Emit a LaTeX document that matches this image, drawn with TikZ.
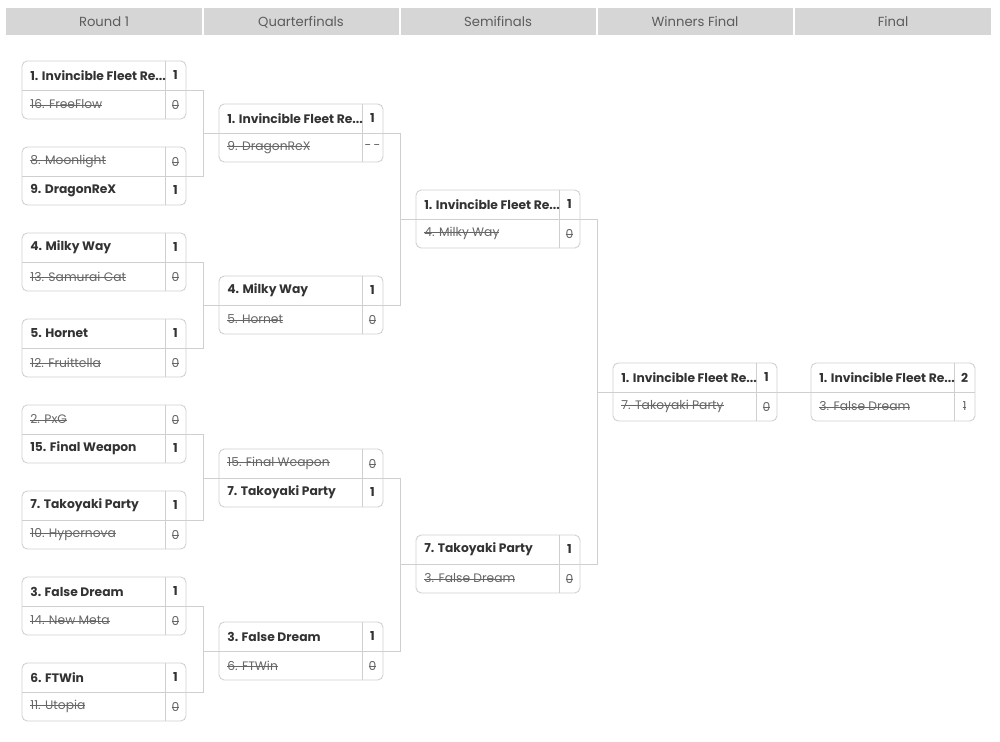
\documentclass[tikz,border=0pt]{standalone}
\usepackage{fontspec}
\setmainfont{Poppins}
\usetikzlibrary{positioning}
\definecolor{hdr}{HTML}{D6D6D6}
\definecolor{frame}{HTML}{CFCFCF}
\definecolor{ink}{HTML}{333333}
\definecolor{lost}{HTML}{666666}
\newcommand\W[1]{\textbf{#1}}
\newcommand\Lo[1]{\textcolor{lost}{\setbox0\hbox{#1}\rlap{\rule[0.3em]{\wd0}{0.35pt}}\box0}}
% \bmatch{name}{x}{ytop}{top team}{top score}{bottom team}{bottom score}
\newcommand\bmatch[7]{%
	\draw[box] (#2,#3) rectangle ++(164,58);
	\draw[frame] (#2,#3+29) -- ++(164,0);
	\draw[frame] (#2+143,#3) -- ++(0,58);
	\node[team] (#1a) at (#2+8,#3+14.5) {#4};
	\node[score] (#1as) at (#2+153.5,#3+14.5) {#5};
	\node[team] (#1b) at (#2+8,#3+43.5) {#6};
	\node[score] (#1bs) at (#2+153.5,#3+43.5) {#7};
	\coordinate (#1l) at (#2,#3+29);
	\coordinate (#1r) at (#2+164,#3+29);}
\newcommand\linkgames[3]{%
	\draw[link] (#1r) -- ++(17,0) |- (#2r);
	\draw[link] (#3l) -- ++(-16,0);}

\begin{document}
\begin{tikzpicture}[x=0.02cm,y=-0.02cm,
	box/.style={draw=frame,rounded corners=3pt,line width=0.5pt},
	link/.style={draw=frame,line width=0.5pt},
	team/.style={anchor=west,inner sep=0pt,text=ink,font=\fontsize{7}{8}\selectfont},
	score/.style={inner sep=0pt,text=ink,font=\fontsize{7}{8}\selectfont},
	head/.style={text=ink!80,font=\fontsize{7.5}{9}\selectfont}]
\useasboundingbox (0,0) rectangle (1000,742);

%% En-tetes
	\fill[hdr] (6,8) rectangle (991,35);
	\foreach \x in {203,400,597,794} \draw[white,line width=1pt] (\x,8) -- (\x,35);
	\node[head] (h1) at (104,22) {Round 1};
	\node[head] (h2) at (301,22) {Quarterfinals};
	\node[head] (h3) at (498,22) {Semifinals};
	\node[head] (h4) at (695,22) {Winners Final};
	\node[head] (h5) at (893,22) {Final};

%% Round 1
	\bmatch{ra}{22}{61}{\W{1. Invincible Fleet Re...}}{\W{1}}{\Lo{16. FreeFlow}}{\Lo{0}}
	\bmatch{rb}{22}{147}{\Lo{8. Moonlight}}{\Lo{0}}{\W{9. DragonReX}}{\W{1}}
	\bmatch{rc}{22}{233}{\W{4. Milky Way}}{\W{1}}{\Lo{13. Samurai Cat}}{\Lo{0}}
	\bmatch{rd}{22}{319}{\W{5. Hornet}}{\W{1}}{\Lo{12. Fruittella}}{\Lo{0}}
	\bmatch{re}{22}{405}{\Lo{2. PxG}}{\Lo{0}}{\W{15. Final Weapon}}{\W{1}}
	\bmatch{rf}{22}{491}{\W{7. Takoyaki Party}}{\W{1}}{\Lo{10. Hypernova}}{\Lo{0}}
	\bmatch{rg}{22}{577}{\W{3. False Dream}}{\W{1}}{\Lo{14. New Meta}}{\Lo{0}}
	\bmatch{rh}{22}{663}{\W{6. FTWin}}{\W{1}}{\Lo{11. Utopia}}{\Lo{0}}

%% Quarterfinals
	\bmatch{qa}{219}{104}{\W{1. Invincible Fleet Re...}}{\W{1}}{\Lo{9. DragonReX}}{\textcolor{lost}{-\,-}}
	\bmatch{qb}{219}{276}{\W{4. Milky Way}}{\W{1}}{\Lo{5. Hornet}}{\Lo{0}}
	\bmatch{qc}{219}{449}{\Lo{15. Final Weapon}}{\Lo{0}}{\W{7. Takoyaki Party}}{\W{1}}
	\bmatch{qd}{219}{622}{\W{3. False Dream}}{\W{1}}{\Lo{6. FTWin}}{\Lo{0}}

%% Semifinals
	\bmatch{sa}{416}{190}{\W{1. Invincible Fleet Re...}}{\W{1}}{\Lo{4. Milky Way}}{\Lo{0}}
	\bmatch{sb}{416}{535}{\W{7. Takoyaki Party}}{\W{1}}{\Lo{3. False Dream}}{\Lo{0}}

%% Winners final / final
	\bmatch{wf}{613}{363}{\W{1. Invincible Fleet Re...}}{\W{1}}{\Lo{7. Takoyaki Party}}{\Lo{0}}
	\bmatch{fi}{811}{363}{\W{1. Invincible Fleet Re...}}{\W{2}}{\Lo{3. False Dream}}{\Lo{1}}

%% Liens
	\linkgames{ra}{rb}{qa}
	\linkgames{rc}{rd}{qb}
	\linkgames{re}{rf}{qc}
	\linkgames{rg}{rh}{qd}
	\linkgames{qa}{qb}{sa}
	\linkgames{qc}{qd}{sb}
	\linkgames{sa}{sb}{wf}
	\draw[link] (wfr) -- (fil);
\end{tikzpicture}
\end{document}
